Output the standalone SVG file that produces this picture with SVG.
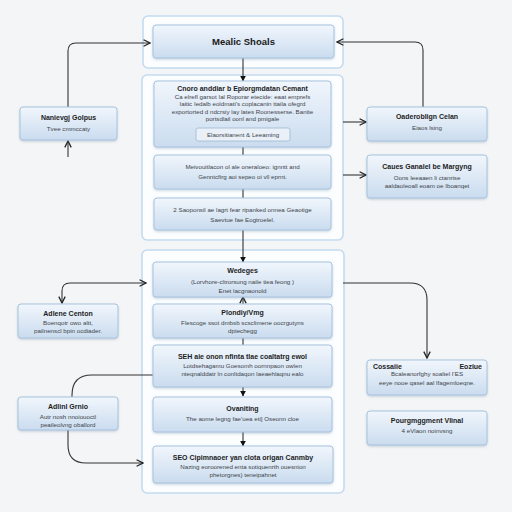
<svg xmlns="http://www.w3.org/2000/svg" width="512" height="512" viewBox="0 0 512 512">
<defs>
<linearGradient id="nodeGrad" x1="0" y1="0" x2="0" y2="1">
<stop offset="0" stop-color="#f1f6fc"/>
<stop offset="1" stop-color="#cadcef"/>
</linearGradient>
<filter id="shadow" x="-10%" y="-20%" width="120%" height="150%">
<feDropShadow dx="0" dy="1.2" stdDeviation="1.2" flood-color="#6a87a6" flood-opacity="0.35"/>
</filter>
<marker id="chev" viewBox="0 0 10 10" refX="9" refY="5" markerWidth="8" markerHeight="8" markerUnits="userSpaceOnUse" orient="auto-start-reverse">
<path d="M1,1 L9,5 L1,9" fill="none" stroke="#222" stroke-width="1.6"/>
</marker>
<marker id="tri" viewBox="0 0 10 10" refX="9" refY="5" markerWidth="6" markerHeight="6" markerUnits="userSpaceOnUse" orient="auto">
<path d="M0,0 L10,5 L0,10 Z" fill="#111"/>
</marker>
</defs>
<style>
.cont{fill:#fbfdff;stroke:#c4dbef;stroke-width:1.6}
.node{fill:url(#nodeGrad);stroke:#a8c3de;stroke-width:1;filter:url(#shadow)}
.btn{fill:#e9f0f8;stroke:#9fb6cf;stroke-width:0.8}
.t{font-family:"Liberation Sans",Arial,sans-serif;font-weight:bold;font-size:7px;fill:#1d1d1d;text-anchor:middle}
.tb{font-family:"Liberation Sans",Arial,sans-serif;font-weight:bold;font-size:9.5px;fill:#1a1a1a;text-anchor:middle}
.b{font-family:"Liberation Sans",Arial,sans-serif;font-size:6.2px;fill:#3f444a;text-anchor:middle}
.c{fill:none;stroke:#333;stroke-width:1.1}
</style>
<rect width="512" height="512" fill="#f4f5f6"/>

<g id="containers">
<rect class="cont" x="143" y="16" width="200" height="52" rx="5"/>
<rect class="cont" x="142" y="75" width="201" height="165" rx="5"/>
<rect class="cont" x="142" y="250" width="202" height="243" rx="5"/>
</g>

<g id="connectors">
<path class="c" d="M243,58 V81" marker-end="url(#tri)"/>
<path class="c" d="M243,147 V155"/>
<path class="c" d="M243,189 V198"/>
<path class="c" d="M243,230 V262" marker-end="url(#tri)"/>
<path class="c" d="M243,304 V297" marker-end="url(#chev)"/>
<path class="c" d="M243,338 V345"/>
<path class="c" d="M243,387 V396" marker-end="url(#tri)"/>
<path class="c" d="M243,432 V446" marker-end="url(#tri)"/>
<path class="c" d="M68,107 V51 Q68,43 76,43 H150" marker-end="url(#chev)"/>
<path class="c" d="M68,157 V141" marker-end="url(#chev)"/>
<path class="c" d="M62,303 V291 Q62,283 70,283 H146" marker-start="url(#chev)" marker-end="url(#chev)"/>
<path class="c" d="M72,397 V395 Q72,375 92,375 H154"/>
<path class="c" d="M68,430 V445 Q68,463 86,463 H143" marker-end="url(#chev)"/>
<path class="c" d="M423,107 V50 Q423,42 415,42 H337" marker-end="url(#chev)"/>
<path class="c" d="M343,122 H366" marker-end="url(#chev)"/>
<path class="c" d="M343,175 H366" marker-end="url(#chev)"/>
<path class="c" d="M343,283 H410 Q427,283 427,300 V358" marker-end="url(#chev)"/>
</g>

<g id="n-top">
<rect class="node" x="153" y="25" width="181" height="33" rx="3"/>
<text class="tb" x="243.5" y="45">Mealic Shoals</text>
</g>

<g id="n-content">
<rect class="node" x="154" y="81" width="177" height="66" rx="3"/>
<text class="t" x="242.5" y="91">Cnoro anddiar b Epiorgmdatan Cemant</text>
<text class="b" x="242.5" y="98.5">Ca elrefl garsot Ial Roporar etecide: eaat emprefs</text>
<text class="b" x="242.5" y="106">Iaitic Iedalb eoldmati's coplacanin ttaila ofegrd</text>
<text class="b" x="242.5" y="113.5">exportorted d ndcrsiy lay lates Roonesserse. Banite</text>
<text class="b" x="242.5" y="121">portsdlail oonl and pmigale</text>
<rect class="btn" x="196" y="128" width="94" height="13" rx="2"/>
<text class="b" x="243" y="136.5">Elaorsitianent &amp; Leeaming</text>
</g>

<g id="n-meiv">
<rect class="node" x="154" y="155" width="177" height="34" rx="3"/>
<text class="b" x="242.5" y="169">Meivouitlacon ol ale oneraloeo: ignntt and</text>
<text class="b" x="242.5" y="178.5">Genntcfirg aoi sepeo oi vll eprnt.</text>
</g>

<g id="n-sapon">
<rect class="node" x="154" y="198" width="177" height="32" rx="3"/>
<text class="b" x="242.5" y="212">2 Saoponsil ae lagrt fear ripanked onnea Geaotige</text>
<text class="b" x="242.5" y="221.5">Saevtue fae Eogtroelel.</text>
</g>

<g id="n-webgen">
<rect class="node" x="153" y="262" width="179" height="35" rx="3"/>
<text class="t" x="242.5" y="273">Wedeges</text>
<text class="b" x="242.5" y="284">(Lorvhore-cltrorsung naile tiea feong )</text>
<text class="b" x="242.5" y="292.5">Enet lacgnaonold</text>
</g>

<g id="n-plan">
<rect class="node" x="153" y="304" width="179" height="34" rx="3"/>
<text class="t" x="242.5" y="315">Plondiy/Vmg</text>
<text class="b" x="242.5" y="325">Flescoge ssot dmbsb scsclimene oocrgutyns</text>
<text class="b" x="242.5" y="333">dptechegg</text>
</g>

<g id="n-seh">
<rect class="node" x="153" y="345" width="179" height="42" rx="3"/>
<text class="t" x="242.5" y="359">SEH aie onon nfinta tlae coaltatrg ewol</text>
<text class="b" x="242.5" y="368">Lotdsehagamu Goesomh oornnpaon owlen</text>
<text class="b" x="242.5" y="376">nteqnalddatr ln conltdaqon Iaeaehlaqnu ealo</text>
</g>

<g id="n-ovan">
<rect class="node" x="153" y="397" width="179" height="35" rx="3"/>
<text class="t" x="242.5" y="411">Ovaniting</text>
<text class="b" x="242.5" y="421">The aome legng fae'uea eti] Oseonn cloe</text>
</g>

<g id="n-seo">
<rect class="node" x="153" y="446" width="180" height="37" rx="3"/>
<text class="t" x="243" y="460">SEO Cipimnaoer yan clota origan Canmby</text>
<text class="b" x="243" y="469">Nazing eoroorened enta sotiquenrth ouesnion</text>
<text class="b" x="243" y="477">phetorgnes) teneipahnet</text>
</g>

<g id="n-nanievgj">
<rect class="node" x="20" y="107" width="97" height="33" rx="3"/>
<text class="t" x="68.5" y="120">Nanievgj Golpus</text>
<text class="b" x="68.5" y="131">Tvee cmmccaty</text>
</g>

<g id="n-adlene">
<rect class="node" x="18" y="304" width="100" height="34" rx="3"/>
<text class="t" x="68" y="316">Adlene Centon</text>
<text class="b" x="68" y="324.5">Boenqotr owo altt,</text>
<text class="b" x="68" y="332.5">pailnenscl bpin ocdiader.</text>
</g>

<g id="n-adlinl">
<rect class="node" x="18" y="397" width="100" height="33" rx="3"/>
<text class="t" x="68" y="409">Adlinl Grnio</text>
<text class="b" x="68" y="418.5">Autr nosh nnoiouoctl</text>
<text class="b" x="68" y="426.5">peaileolvng oballord</text>
</g>

<g id="n-oader">
<rect class="node" x="367" y="107" width="120" height="34" rx="3"/>
<text class="t" x="427" y="119">Oaderoblign Celan</text>
<text class="b" x="427" y="130">Eiaos lsing</text>
</g>

<g id="n-caues">
<rect class="node" x="367" y="155" width="120" height="43" rx="3"/>
<text class="t" x="427" y="169">Caues Ganalel be Margyng</text>
<text class="b" x="427" y="180">Oons Ieeaaen li ctanrise</text>
<text class="b" x="427" y="188">aaldaoleoall eoam oe Iboanqet</text>
</g>

<g id="n-cossaiie">
<rect class="node" x="367" y="360" width="120" height="35" rx="3"/>
<text class="t" x="373" y="368.5" style="text-anchor:start">Cossaiie</text>
<text class="t" x="482" y="368.5" style="text-anchor:end">Eoziue</text>
<text class="b" x="427" y="376">Bcaleanorfghy soaltel I'ES</text>
<text class="b" x="427" y="384.5">eeye nooe qasel aal lfagemloeqne.</text>
</g>

<g id="n-pourg">
<rect class="node" x="367" y="411" width="120" height="34" rx="3"/>
<text class="t" x="427" y="423">Pourgmggment Vlinal</text>
<text class="b" x="427" y="433">4 eVlaon noinvsng</text>
</g>
</svg>
